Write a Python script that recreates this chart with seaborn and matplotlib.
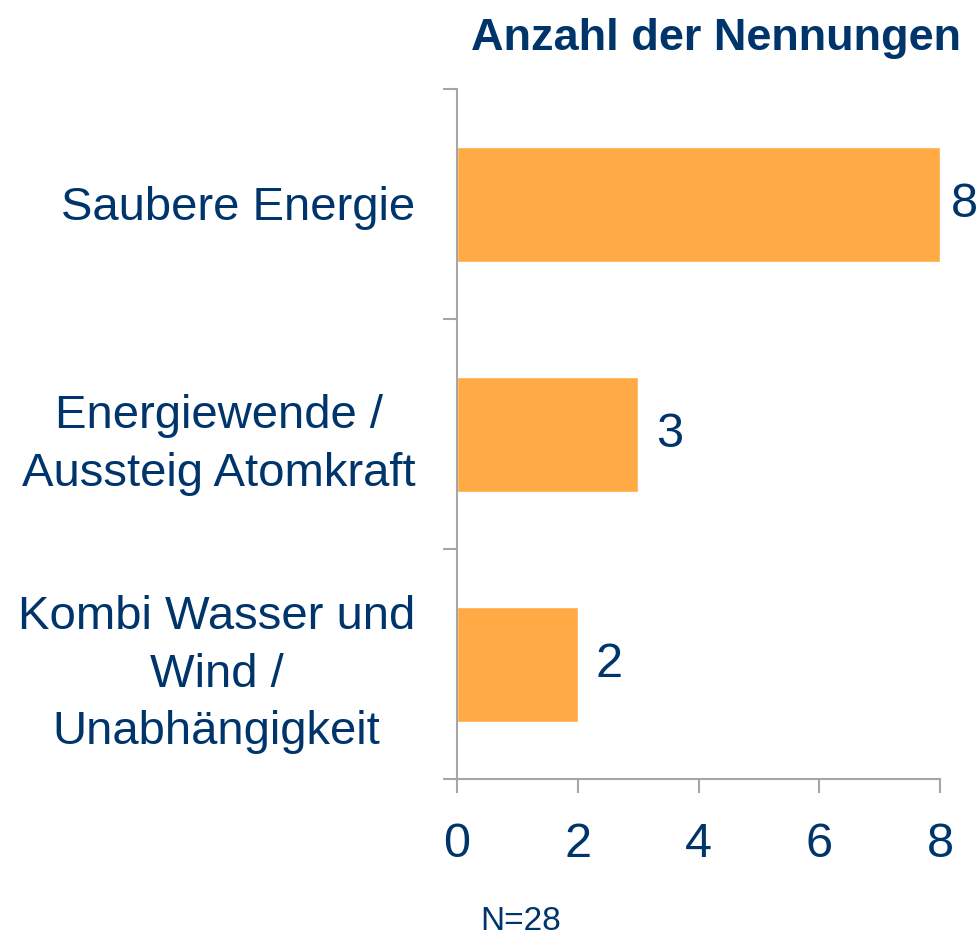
import matplotlib
matplotlib.use('Agg')
import matplotlib.pyplot as plt
import matplotlib.transforms as mtransforms
import pandas as pd
import seaborn as sns

# ── Data ───────────────────────────────────────────────────────────────────────
categories = [
    'Saubere Energie',
    'Energiewende /\nAussteig Atomkraft',
    'Kombi Wasser und\nWind /\nUnabhängigkeit',
]
counts = [8, 3, 2]
x_ticks = [0, 2, 4, 6, 8]
title = 'Anzahl der Nennungen'
note = 'N=28'

# ── Style ──────────────────────────────────────────────────────────────────────
NAVY = '#00356B'
ORANGE = '#FFAA44'
GREY = '#A6A6A6'

sns.set_style('white')
plt.rcParams['font.family'] = ['Liberation Sans', 'DejaVu Sans']

df = pd.DataFrame({'category': categories, 'count': counts})

fig = plt.figure(figsize=(9.8, 9.37), dpi=100)
ax = fig.add_axes([457 / 980, 1 - 780 / 937, (940 - 457) / 980, 690 / 937])

sns.barplot(data=df, y='category', x='count', orient='h', color=ORANGE,
            saturation=1, width=0.5, ax=ax)

ax.set_xlim(0, 8)
ax.set_ylim(len(categories) - 0.5, -0.5)
ax.set_xticks(x_ticks)
ax.set_xlabel('')
ax.set_ylabel('')

# y ticks sit between categories, labels centred on the bars
ax.set_yticks([i - 0.5 for i in range(len(categories) + 1)])
ax.set_yticklabels([])
ax.set_yticks(range(len(categories)), minor=True)
ax.set_yticklabels(categories, minor=True, ha='right', multialignment='center',
                   linespacing=1.4)
ax.tick_params(axis='y', which='minor', left=True, length=0, pad=30,
               labelsize=34, labelcolor=NAVY)
ax.tick_params(axis='y', which='major', left=True, length=10, width=1.5,
               color=GREY)
ax.tick_params(axis='x', bottom=True, length=10, width=1.5, color=GREY,
               pad=20, labelsize=35, labelcolor=NAVY)

# nudge the category labels up a little
shift = mtransforms.ScaledTranslation(0, 1.5 / 72, fig.dpi_scale_trans)
for lbl in ax.get_yticklabels(minor=True):
    lbl.set_transform(lbl.get_transform() + shift)

for side in ['top', 'right']:
    ax.spines[side].set_visible(False)
for side in ['left', 'bottom']:
    ax.spines[side].set_color(GREY)
    ax.spines[side].set_linewidth(1.5)

# value labels; the longest bar gets a tighter gap so it stays in the frame
for patch, c in zip(ax.patches, counts):
    gap = 8 if c == max(counts) else 13
    ax.annotate(str(c), (patch.get_width(), patch.get_y() + patch.get_height() / 2),
                xytext=(gap, 0), textcoords='offset points', ha='left',
                va='center', fontsize=35, color=NAVY, annotation_clip=False)

fig.text(716 / 980, 1 - 50 / 937, title, ha='center', va='baseline',
         fontsize=32.5, fontweight='bold', color=NAVY)
fig.text(480 / 980, 7 / 937, note, ha='left', va='baseline', fontsize=24,
         color=NAVY)

fig.savefig('out.png', dpi=100)
